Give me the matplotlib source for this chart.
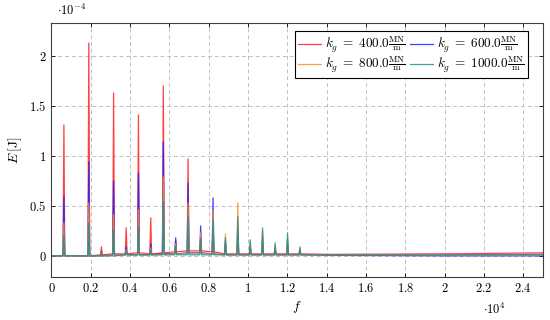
import numpy as np
import matplotlib
matplotlib.use("Agg")
import matplotlib.pyplot as plt
from matplotlib.ticker import FuncFormatter, MultipleLocator

# resonance peaks (frequency in Hz), heights in 1e-4 J
peak_f = [632, 1900, 2540, 3160, 3800, 4425, 5050, 5690, 6320, 6950,
          7590, 8220, 8850, 9480, 10110, 10740, 11380, 12010, 12640]

h_400 = [1.31, 2.13, 0.09, 1.63, 0.28, 1.41, 0.38, 1.70, 0.15, 0.97,
         0.20, 0.30, 0.12, 0.20, 0.08, 0.12, 0.06, 0.10, 0.04]
h_600 = [0.59, 0.94, 0.04, 0.75, 0.09, 0.83, 0.12, 1.14, 0.18, 0.73,
         0.30, 0.58, 0.15, 0.30, 0.10, 0.18, 0.08, 0.15, 0.05]
h_800 = [0.33, 0.53, 0.03, 0.41, 0.06, 0.46, 0.08, 0.79, 0.12, 0.53,
         0.23, 0.46, 0.22, 0.53, 0.13, 0.25, 0.10, 0.18, 0.07]
h_1000 = [0.21, 0.33, 0.02, 0.26, 0.05, 0.29, 0.06, 0.54, 0.10, 0.40,
          0.17, 0.36, 0.18, 0.39, 0.16, 0.28, 0.13, 0.23, 0.09]

# level at the foot of each peak
floor_400 = [0.00, 0.00, 0.01, 0.02, 0.02, 0.03, 0.02, 0.03, 0.04, 0.05,
             0.05, 0.04, 0.02, 0.02, 0.02, 0.02, 0.02, 0.02, 0.02]
floor_600 = [0.00, 0.00, 0.00, 0.01, 0.01, 0.01, 0.01, 0.02, 0.02, 0.03,
             0.03, 0.02, 0.01, 0.01, 0.01, 0.01, 0.01, 0.01, 0.01]
floor_800 = [0.00, 0.00, 0.00, 0.01, 0.01, 0.01, 0.01, 0.01, 0.02, 0.02,
             0.02, 0.02, 0.01, 0.01, 0.01, 0.01, 0.01, 0.01, 0.01]
floor_1000 = [0.00, 0.00, 0.00, 0.00, 0.01, 0.01, 0.01, 0.01, 0.01, 0.01,
              0.01, 0.01, 0.01, 0.01, 0.01, 0.01, 0.01, 0.01, 0.01]

# flat tail after the last peak
tail_f = [14000, 20000, 25000]
tail_400 = [0.015, 0.02, 0.03]
tail_600 = [0.005, 0.0, 0.0]
tail_800 = [0.01, 0.01, 0.01]
tail_1000 = [0.01, 0.01, 0.015]

labels = [400.0, 600.0, 800.0, 1000.0]
colors = ["#ff2020", "#2020ff", "#ff9020", "#208f8f"]

plt.rcParams["font.family"] = "serif"
plt.rcParams["font.serif"] = ["cmr10"]
plt.rcParams["mathtext.fontset"] = "cm"
plt.rcParams["axes.unicode_minus"] = False
plt.rcParams["axes.formatter.use_mathtext"] = True


def build_line(heights, floors, tail):
    xs, ys = [0.0], [0.0]
    half = 45.0
    for f, h, fl in zip(peak_f, heights, floors):
        xs += [f - half, f, f + half]
        ys += [fl, h, fl]
    xs += tail_f
    ys += tail
    return np.array(xs), np.array(ys)


fig = plt.figure(figsize=(5.5, 3.2), dpi=100)
ax = fig.add_axes([0.0936, 0.134, 0.8934, 0.795])

series = [
    (h_400, floor_400, tail_400),
    (h_600, floor_600, tail_600),
    (h_800, floor_800, tail_800),
    (h_1000, floor_1000, tail_1000),
]
handles = []
for (h, fl, t), kg, c in zip(series, labels, colors):
    x, y = build_line(h, fl, t)
    ln, = ax.plot(x, y, color=c, linewidth=0.9, alpha=0.85,
                  label=r"$k_g\;=\;%.1f\frac{\mathrm{MN}}{\mathrm{m}}$" % kg)
    handles.append(ln)

ax.set_xlim(0, 25000)
ax.set_ylim(-0.213, 2.333)
ax.xaxis.set_major_locator(MultipleLocator(2000))
ax.yaxis.set_major_locator(MultipleLocator(0.5))
ax.xaxis.set_major_formatter(FuncFormatter(lambda v, p: "$%g$" % round(v / 1e4, 2)))
ax.yaxis.set_major_formatter(FuncFormatter(lambda v, p: "$%g$" % round(v, 2)))
ax.tick_params(direction="in", labelsize=9, length=3, width=0.6,
               top=True, right=True)
ax.grid(True, linestyle=(0, (4, 3)), color="#c0c0c0", linewidth=0.7)
for s in ax.spines.values():
    s.set_linewidth(0.8)
    s.set_color("#404040")

ax.set_xlabel("$f$", fontsize=10, labelpad=3)
ax.set_ylabel(r"$E\,[\mathrm{J}]$", fontsize=10, labelpad=4)
fig.text(0.103, 0.968, r"$\cdot 10^{-4}$", fontsize=9, va="center")
fig.text(0.878, 0.033, r"$\cdot 10^{4}$", fontsize=9, va="center")

# row-wise order like the original: 400 | 600 / 800 | 1000
order = [0, 2, 1, 3]
leg = ax.legend([handles[i] for i in order],
                [handles[i].get_label() for i in order],
                loc="upper right", ncol=2, fontsize=9.5, frameon=True,
                fancybox=False, framealpha=1, edgecolor="black",
                handlelength=1.75, handletextpad=0.3, columnspacing=0.3,
                borderpad=0.25, labelspacing=0.0, borderaxespad=0,
                bbox_to_anchor=(0.9695, 0.967))
leg.get_frame().set_linewidth(0.8)

fig.savefig("out.png", dpi=100)
